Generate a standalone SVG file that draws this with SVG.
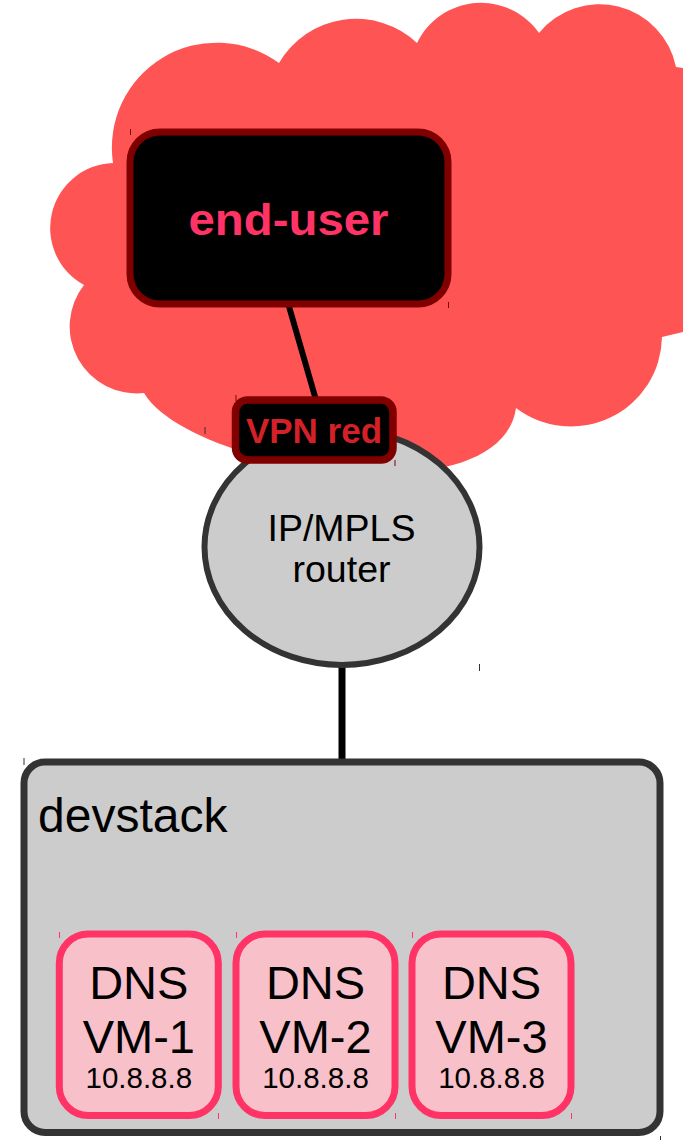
<svg xmlns="http://www.w3.org/2000/svg" width="683" height="1140" viewBox="0 0 683 1140">
  <style>
    .sans { font-family: "Liberation Sans", Arial, sans-serif; }
    .vm rect { fill: #f8c1ca; stroke: #ff3366; stroke-width: 7; }
    .vm text { fill: #000; text-anchor: middle; }
    .big { font-size: 47px; }
    .ip { font-size: 29.5px; }
    .tick { stroke-width: 1; fill: none; }
  </style>

  <!-- VPN cloud -->
  <g id="cloud">
    <path fill="#ff5454" d="M 113 163
      A 105 105 0 0 1 279 63
      A 89 89 0 0 1 417 43
      A 71 71 0 0 1 539 33
      A 78 78 0 0 1 676 67
      L 700 70 L 700 332 L 683 332 L 662 337
      A 91 91 0 0 1 516 408
      C 500 520 190 470 144 393
      A 67 67 0 0 1 84 285
      A 65 65 0 0 1 113 163 Z"/>
  </g>

  <!-- links -->
  <g id="connectors" stroke="#000" fill="none">
    <line x1="288" y1="303" x2="316" y2="400" stroke-width="6"/>
    <line x1="342" y1="664" x2="342" y2="762" stroke-width="7"/>
  </g>

  <!-- router -->
  <g id="router">
    <ellipse cx="342" cy="547" rx="137.5" ry="118" fill="#cccccc" stroke="#333333" stroke-width="6"/>
    <text class="sans" x="341.5" y="541" font-size="37.5" text-anchor="middle">IP/MPLS</text>
    <text class="sans" x="341.5" y="582" font-size="37.5" text-anchor="middle">router</text>
    <line class="tick" x1="205" y1="427" x2="205" y2="434" stroke="#333"/>
    <line class="tick" x1="479.5" y1="664" x2="479.5" y2="671" stroke="#333"/>
  </g>

  <!-- VPN attachment -->
  <g id="vpn-red">
    <rect x="235.5" y="400" width="157.5" height="60" rx="12" fill="#000" stroke="#800000" stroke-width="7.5"/>
    <text class="sans" x="314" y="443" font-size="35" font-weight="bold" fill="#d42027" text-anchor="middle">VPN red</text>
    <line class="tick" x1="236" y1="395" x2="236" y2="401" stroke="#800000"/>
    <line class="tick" x1="395" y1="460" x2="395" y2="466" stroke="#800000"/>
  </g>

  <!-- end user -->
  <g id="end-user">
    <rect x="130" y="132" width="318" height="172" rx="30" fill="#000" stroke="#800000" stroke-width="7"/>
    <text class="sans" x="288.5" y="235" font-size="45" font-weight="bold" fill="#ff3366" text-anchor="middle" textLength="200" lengthAdjust="spacingAndGlyphs">end-user</text>
    <line class="tick" x1="130.5" y1="129" x2="130.5" y2="135" stroke="#800000"/>
    <line class="tick" x1="448.5" y1="302" x2="448.5" y2="308" stroke="#800000"/>
  </g>

  <!-- compute host -->
  <g id="devstack">
    <rect x="24" y="762" width="636" height="370.5" rx="21" fill="#cccccc" stroke="#333333" stroke-width="7"/>
    <text class="sans" x="38" y="832" font-size="48">devstack</text>
    <line class="tick" x1="24" y1="758" x2="24" y2="765" stroke="#333"/>
    <line class="tick" x1="660.5" y1="1136" x2="660.5" y2="1140" stroke="#333"/>
  </g>

  <g id="dns-vm-1" class="vm sans">
    <rect x="59.3" y="934" width="159" height="181.5" rx="29"/>
    <text class="big" x="138.8" y="999">DNS</text>
    <text class="big" x="138.8" y="1053">VM-1</text>
    <text class="ip" x="138.8" y="1088">10.8.8.8</text>
    <line class="tick" x1="59.5" y1="932" x2="59.5" y2="938" stroke="#ff3366"/>
    <line class="tick" x1="218.5" y1="1113" x2="218.5" y2="1119" stroke="#ff3366"/>
  </g>

  <g id="dns-vm-2" class="vm sans">
    <rect x="236" y="934" width="159" height="181.5" rx="29"/>
    <text class="big" x="315.5" y="999">DNS</text>
    <text class="big" x="315.5" y="1053">VM-2</text>
    <text class="ip" x="315.5" y="1088">10.8.8.8</text>
    <line class="tick" x1="236.5" y1="932" x2="236.5" y2="938" stroke="#ff3366"/>
    <line class="tick" x1="395.5" y1="1113" x2="395.5" y2="1119" stroke="#ff3366"/>
  </g>

  <g id="dns-vm-3" class="vm sans">
    <rect x="412" y="934" width="159" height="181.5" rx="29"/>
    <text class="big" x="491.5" y="999">DNS</text>
    <text class="big" x="491.5" y="1053">VM-3</text>
    <text class="ip" x="491.5" y="1088">10.8.8.8</text>
    <line class="tick" x1="412.5" y1="932" x2="412.5" y2="938" stroke="#ff3366"/>
    <line class="tick" x1="571.5" y1="1113" x2="571.5" y2="1119" stroke="#ff3366"/>
  </g>
</svg>
